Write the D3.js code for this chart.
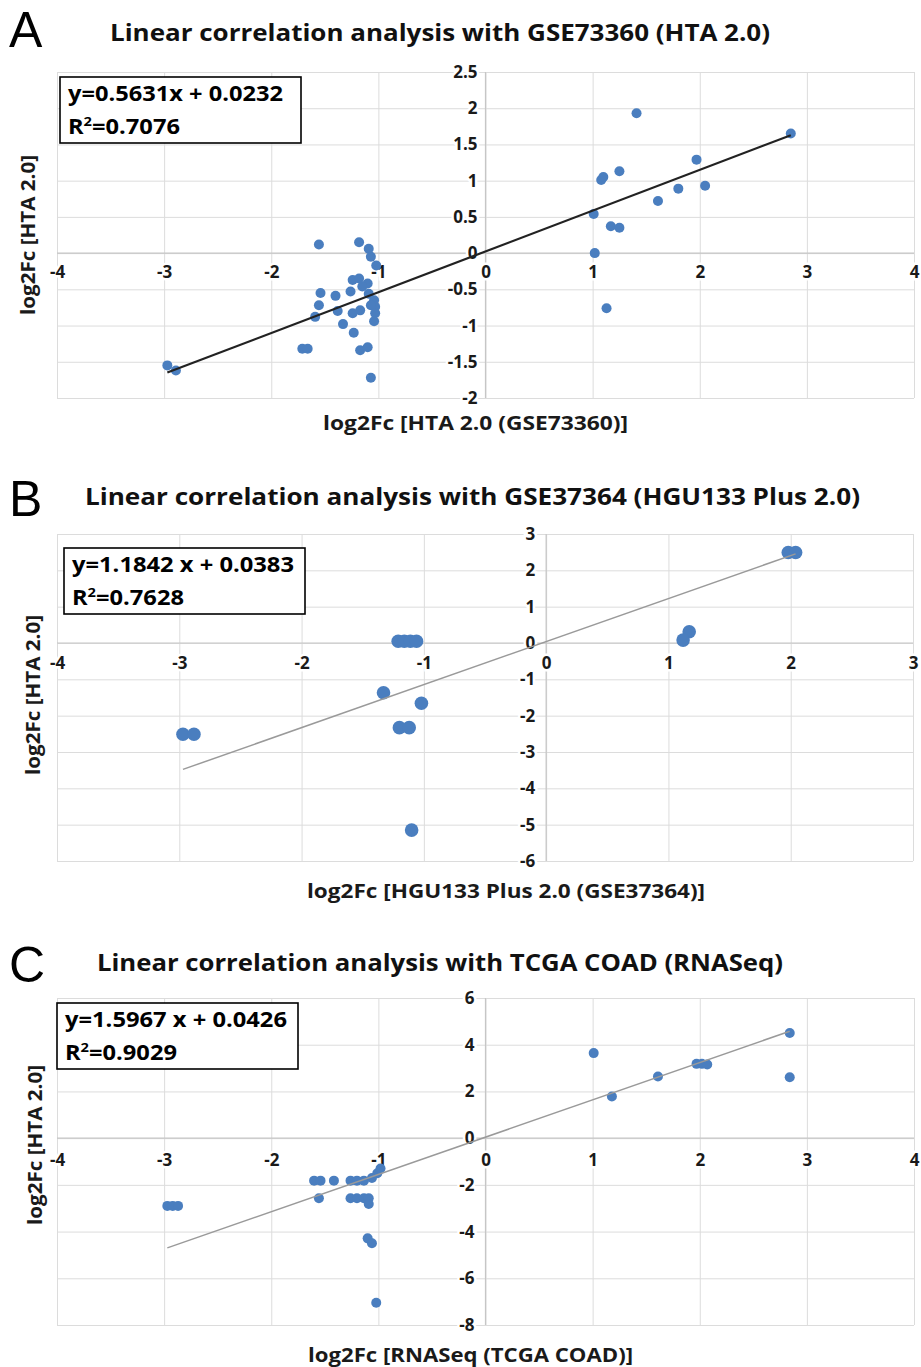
<!DOCTYPE html>
<html>
<head>
<meta charset="utf-8">
<script src="https://cdn.jsdelivr.net/npm/d3@7"></script>
<style>
    body { margin: 0; background: #fff; }
    svg text { font-family: 'Open Sans', 'DejaVu Sans', sans-serif; }
</style>
</head>
<body>
<div class="corr-chart"></div>
<script>
// panel A - GSE73360 (HTA 2.0)
const aX = [-1.555, -1.18, -1.09, -1.07, -1.02, -1.24, -1.18, -1.10, -1.15, -1.26, -1.54, -1.40, -1.09, -1.04, -1.03, -1.07,
    -1.555, -1.38, -1.24, -1.17, -1.59, -1.03, -1.04, -1.33, -1.23, -1.71, -1.66, -1.17, -1.10, -1.07, -2.97, -2.89,
    1.41, 2.85, 1.97, 1.25, 1.08, 1.10, 1.80, 2.05, 1.61, 1.01, 1.17, 1.25, 1.02, 1.13]
const aY = [0.12, 0.15, 0.06, -0.05, -0.17, -0.37, -0.35, -0.42, -0.46, -0.53, -0.55, -0.59, -0.56, -0.65, -0.74, -0.72,
    -0.72, -0.80, -0.83, -0.79, -0.88, -0.83, -0.94, -0.98, -1.10, -1.32, -1.32, -1.34, -1.30, -1.72, -1.55, -1.62,
    1.93, 1.65, 1.29, 1.13, 1.01, 1.05, 0.89, 0.93, 0.72, 0.54, 0.37, 0.35, 0.00, -0.76]
const aTicksX = [-4, -3, -2, -1, 0, 1, 2, 3, 4]
const aTicksY = [-2, -1.5, -1, -0.5, 0, 0.5, 1, 1.5, 2, 2.5]

// panel B - GSE37364 (HGU133 Plus 2.0)
const bX = [-1.21, -1.16, -1.11, -1.06, -1.33, -1.02, -1.20, -1.12, -2.97, -2.88, -1.10, 1.98, 2.04, 1.17, 1.12]
const bY = [0.05, 0.05, 0.05, 0.05, -1.37, -1.66, -2.33, -2.33, -2.51, -2.51, -5.15, 2.49, 2.49, 0.31, 0.08]
const bTicksX = [-4, -3, -2, -1, 0, 1, 2, 3]
const bTicksY = [-6, -5, -4, -3, -2, -1, 0, 1, 2, 3]

// panel C - TCGA COAD (RNASeq)
const cX = [-2.97, -2.92, -2.87, -1.60, -1.54, -1.415, -1.26, -1.20, -1.135, -1.06, -1.01, -0.98, -1.555, -1.26, -1.20,
    -1.135, -1.09, -1.09, -1.10, -1.06, -1.02, 1.01, 2.84, 2.84, 1.18, 1.61, 1.97, 2.02, 2.07]
const cY = [-2.90, -2.90, -2.90, -1.82, -1.82, -1.82, -1.82, -1.82, -1.82, -1.71, -1.50, -1.30, -2.57, -2.57, -2.57,
    -2.57, -2.57, -2.82, -4.29, -4.50, -7.05, 3.64, 4.50, 2.61, 1.78, 2.64, 3.18, 3.18, 3.15]
const cTicksX = [-4, -3, -2, -1, 0, 1, 2, 3, 4]
const cTicksY = [-8, -6, -4, -2, 0, 2, 4, 6]

const letters = ['A', 'B', 'C']
const titles = [
    'Linear correlation analysis with GSE73360 (HTA 2.0)',
    'Linear correlation analysis with GSE37364 (HGU133 Plus 2.0)',
    'Linear correlation analysis with TCGA COAD (RNASeq)'
]
const xTitles = ['log2Fc [HTA 2.0 (GSE73360)]', 'log2Fc [HGU133 Plus 2.0 (GSE37364)]', 'log2Fc [RNASeq (TCGA COAD)]']
const yTitle = 'log2Fc [HTA 2.0]'
const slopes = [0.5631, 1.1842, 1.5967]
const intercepts = [0.0232, 0.0383, 0.0426]
const eqTexts = ['y=0.5631x + 0.0232', 'y=1.1842 x + 0.0383', 'y=1.5967 x + 0.0426']
const r2Texts = ['0.7076', '0.7628', '0.9029']

const svg = d3.select('.corr-chart')
    .append('svg')
    .attr('width', 921)
    .attr('height', 1367)

function drawPanel(i, xs, ys, ticksX, ticksY, lay) {
    let g = svg.append('g')

    //比例尺
    let x = d3.scaleLinear().domain([ticksX[0], ticksX[ticksX.length - 1]]).range([lay.left, lay.right])
    let y = d3.scaleLinear().domain([ticksY[0], ticksY[ticksY.length - 1]]).range([lay.bottom, lay.top])

    // letter + title
    g.append('text')
        .attr('x', 9).attr('y', lay.letterY)
        .style('font-family', "'Liberation Sans', sans-serif")
        .attr('font-size', 50)
        .text(letters[i])
    g.append('text')
        .attr('x', lay.titleX).attr('y', lay.titleY)
        .attr('font-size', 24).attr('font-weight', 'bold')
        .attr('textLength', lay.titleW).attr('lengthAdjust', 'spacingAndGlyphs')
        .attr('fill', '#111')
        .text(titles[i])

    // grid
    g.append('g')
        .attr('class', 'grid')
        .attr('transform', 'translate(0,' + lay.bottom + ')')
        .call(d3.axisBottom(x).tickValues(ticksX).tickSize(-(lay.bottom - lay.top)).tickFormat(''))
    g.append('g')
        .attr('class', 'grid')
        .attr('transform', 'translate(' + lay.left + ',0)')
        .call(d3.axisLeft(y).tickValues(ticksY).tickSize(-(lay.right - lay.left)).tickFormat(''))
    g.selectAll('.grid .domain').remove()
    g.selectAll('.grid line').attr('stroke', '#dcdcdc').attr('stroke-width', 1)

    // zero axes
    g.append('line')
        .attr('x1', lay.left).attr('x2', lay.right)
        .attr('y1', y(0)).attr('y2', y(0))
        .attr('stroke', '#c6c6c6').attr('stroke-width', 1.2)
    g.append('line')
        .attr('x1', x(0)).attr('x2', x(0))
        .attr('y1', lay.top).attr('y2', lay.bottom)
        .attr('stroke', '#c6c6c6').attr('stroke-width', 1.2)

    // tick labels through the zero lines
    let xAxis = g.append('g')
        .attr('transform', 'translate(0,' + y(0) + ')')
        .call(d3.axisBottom(x).tickValues(ticksX).tickSize(0).tickPadding(lay.xPad).tickFormat(d => String(d)))
    let yAxis = g.append('g')
        .attr('transform', 'translate(' + x(0) + ',0)')
        .call(d3.axisLeft(y).tickValues(ticksY).tickSize(0).tickPadding(lay.yPad).tickFormat(d => String(d)))
    ;[xAxis, yAxis].forEach(ax => {
        ax.select('.domain').remove()
        ax.selectAll('text')
            .style('font-family', "'Open Sans', sans-serif")
            .attr('font-size', 17).attr('font-weight', 'bold')
            .attr('fill', '#1a1a1a')
            .attr('stroke', '#fff').attr('stroke-width', 5)
            .attr('paint-order', 'stroke')
    })

    // points
    g.append('g')
        .selectAll('circle')
        .data(xs.map((d, k) => [d, ys[k]]))
        .enter()
        .append('circle')
        .attr('cx', d => x(d[0]))
        .attr('cy', d => y(d[1]))
        .attr('r', lay.r)
        .attr('fill', '#4a7ebf')

    // trend line
    let ext = d3.extent(xs)
    g.append('line')
        .attr('x1', x(ext[0])).attr('y1', y(slopes[i] * ext[0] + intercepts[i]))
        .attr('x2', x(ext[1])).attr('y2', y(slopes[i] * ext[1] + intercepts[i]))
        .attr('stroke', lay.lineColor)
        .attr('stroke-width', lay.lineW)

    // equation box
    g.append('rect')
        .attr('x', lay.boxX).attr('y', lay.boxY)
        .attr('width', 241).attr('height', 66)
        .attr('fill', '#fff').attr('stroke', '#000').attr('stroke-width', 1.6)
    g.append('text')
        .attr('x', lay.boxX + 8).attr('y', lay.boxY + 24)
        .attr('font-size', 21).attr('font-weight', 'bold')
        .attr('textLength', lay.eqW).attr('lengthAdjust', 'spacingAndGlyphs')
        .text(eqTexts[i])
    let r2 = g.append('text')
        .attr('x', lay.boxX + 8).attr('y', lay.boxY + 57)
        .attr('font-size', 21).attr('font-weight', 'bold')
        .attr('textLength', 112).attr('lengthAdjust', 'spacingAndGlyphs')
    r2.append('tspan').text('R')
    r2.append('tspan').attr('font-size', 13).attr('dy', -8).text('2')
    r2.append('tspan').attr('dy', 8).text('=' + r2Texts[i])

    // axis titles
    g.append('text')
        .attr('x', lay.xtX).attr('y', lay.xtY)
        .attr('font-size', 19).attr('font-weight', 'bold')
        .attr('textLength', lay.xtW).attr('lengthAdjust', 'spacingAndGlyphs')
        .attr('fill', '#1a1a1a')
        .text(xTitles[i])
    g.append('text')
        .attr('transform', 'translate(' + lay.ytX + ',' + lay.ytY + ') rotate(-90)')
        .attr('text-anchor', 'middle')
        .attr('font-size', 19).attr('font-weight', 'bold')
        .attr('textLength', 160).attr('lengthAdjust', 'spacingAndGlyphs')
        .attr('fill', '#1a1a1a')
        .text(yTitle)
}

drawPanel(0, aX, aY, aTicksX, aTicksY, {
    left: 57, right: 914, top: 72, bottom: 398,
    letterY: 47, titleX: 110, titleY: 41, titleW: 660,
    xPad: 13, yPad: 8, r: 5, lineColor: '#222', lineW: 2.2,
    boxX: 60, boxY: 77, eqW: 215,
    xtX: 323, xtY: 430, xtW: 305, ytX: 35, ytY: 235
})
drawPanel(1, bX, bY, bTicksX, bTicksY, {
    left: 57, right: 913, top: 534, bottom: 861,
    letterY: 516, titleX: 85, titleY: 505, titleW: 775,
    xPad: 14, yPad: 11, r: 6.8, lineColor: '#9a9a9a', lineW: 1.5,
    boxX: 64, boxY: 548, eqW: 222,
    xtX: 307, xtY: 898, xtW: 398, ytX: 40, ytY: 695
})
drawPanel(2, cX, cY, cTicksX, cTicksY, {
    left: 57, right: 914, top: 998, bottom: 1325,
    letterY: 982, titleX: 97, titleY: 971, titleW: 686,
    xPad: 16, yPad: 11, r: 5, lineColor: '#9a9a9a', lineW: 1.5,
    boxX: 57, boxY: 1003, eqW: 222,
    xtX: 308, xtY: 1362, xtW: 325, ytX: 42, ytY: 1145
})
</script>
</body>
</html>
